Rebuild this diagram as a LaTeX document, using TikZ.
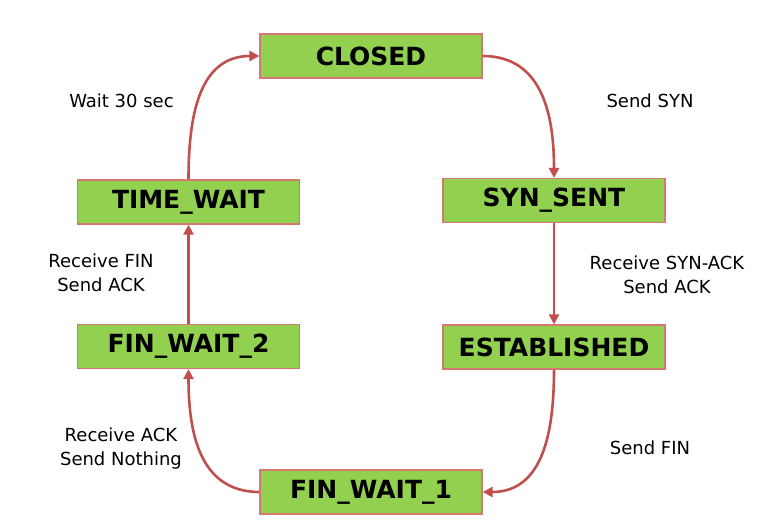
\documentclass[tikz,border=0pt]{standalone}
\usepackage{fontspec}
\setmainfont{DejaVu Sans}
\usetikzlibrary{arrows.meta}
\definecolor{boxgreen}{RGB}{146,208,80}
\definecolor{boxedge}{RGB}{214,120,114}
\definecolor{arrowred}{RGB}{192,80,77}
\tikzset{
  state/.style={draw=boxedge, line width=1.2pt, fill=boxgreen, inner sep=0pt,
    minimum height=44pt, minimum width=222pt, font=\fontsize{25}{30}\selectfont\bfseries},
  trans/.style={draw=arrowred, line width=2.6pt, -{Triangle[length=10pt,width=10pt]}},
  lbl/.style={align=center, font=\fontsize{18}{24}\selectfont, inner sep=0pt}
}
\begin{document}
\begin{tikzpicture}[x=1pt,y=-1pt]
\useasboundingbox (0,0) rectangle (766,527);
\node[state] (closed) at (371,56) {CLOSED};
\node[state] (synsent) at (554,200.5) {SYN\_SENT};
\node[state] (estab) at (554,347) {ESTABLISHED};
\node[state] (fw1) at (371,492) {FIN\_WAIT\_1};
\node[state] (fw2) at (188.5,346.5) {FIN\_WAIT\_2};
\node[state] (tw) at (188.5,202) {TIME\_WAIT};

\draw[trans] (closed.east) to[out=0,in=90,looseness=1.1] (synsent.north);
\draw[trans] (synsent.south) -- (estab.north);
\draw[trans] (estab.south) to[out=270,in=0,looseness=1.1] (fw1.east);
\draw[trans] (fw1.west) to[out=180,in=270,looseness=1.1] (fw2.south);
\draw[trans] (fw2.north) -- (tw.south);
\draw[trans] (tw.north) to[out=90,in=180,looseness=1.1] (closed.west);

\node[lbl] (l1) at (121.5,101) {Wait 30 sec};
\node[lbl] (l2) at (650,101) {Send SYN};
\node[lbl] (l3) at (667,275) {Receive SYN-ACK\\Send ACK};
\node[lbl] (l4) at (101,273) {Receive FIN\\Send ACK};
\node[lbl] (l5) at (121,449) {Receive ACK\\Send Nothing};
\node[lbl] (l6) at (650,448) {Send FIN};
\end{tikzpicture}
\end{document}
